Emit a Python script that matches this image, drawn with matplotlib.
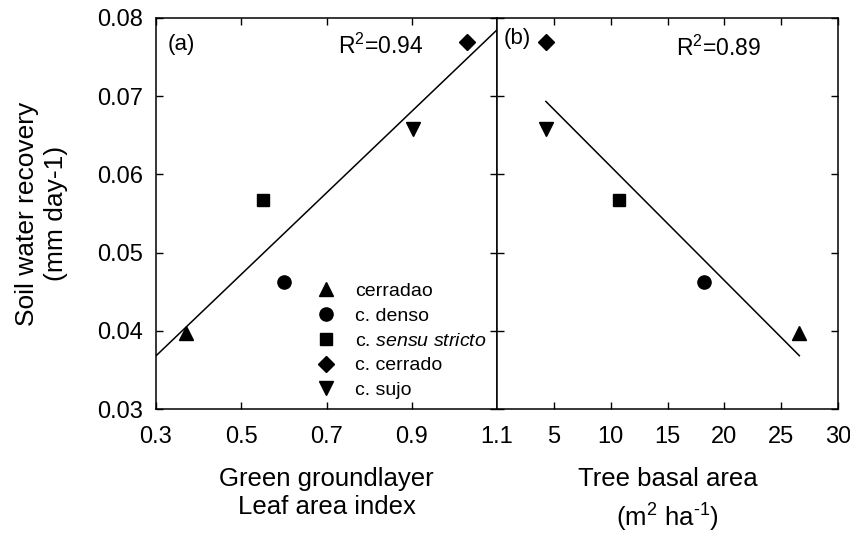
import matplotlib
matplotlib.use("Agg")
import matplotlib.pyplot as plt
import numpy as np

plt.rcParams['font.family'] = ['Liberation Sans', 'DejaVu Sans']
plt.rcParams['mathtext.fontset'] = 'custom'
plt.rcParams['mathtext.rm'] = 'Liberation Sans'
plt.rcParams['mathtext.it'] = 'Liberation Sans:italic'

# ---- data ----
categories = ["cerradao", "c. denso", "c. sensu stricto", "c. cerrado", "c. sujo"]
legend_labels = ["cerradao", "c. denso", r"c. $\mathit{sensu\ stricto}$", "c. cerrado", "c. sujo"]
markers = ["^", "o", "s", "D", "v"]
marker_sizes = [10, 9.5, 8, 8, 10]
soil_water_recovery = [0.0397, 0.0463, 0.0567, 0.0769, 0.0658]
green_lai = [0.370, 0.601, 0.552, 1.030, 0.904]
tree_basal_area = [26.6, 18.2, 10.7, 4.3, 4.3]

fit_a = (0.0521, 0.02117)     # slope, intercept (panel a)
fit_a_range = (0.3, 1.1)
fit_b = (-0.001458, 0.0756)   # slope, intercept (panel b)
fit_b_range = (4.3, 26.6)
r2_a = "0.94"
r2_b = "0.89"

xticks_a = [0.3, 0.5, 0.7, 0.9, 1.1]
xticks_b = [5, 10, 15, 20, 25, 30]
yticks = [0.03, 0.04, 0.05, 0.06, 0.07, 0.08]

# ---- figure ----
fig = plt.figure(figsize=(8.5, 5.34), dpi=100)
W, H = 850, 534
ax_a = fig.add_axes([156 / W, (H - 409) / H, 341 / W, 391 / H])
ax_b = fig.add_axes([497 / W, (H - 409) / H, 341 / W, 391 / H])

tick_fs = 17
for ax in (ax_a, ax_b):
    ax.tick_params(direction='in', length=5, width=1, top=True, right=True,
                   labelsize=tick_fs)
    ax.tick_params(axis='x', pad=12)
    ax.tick_params(axis='y', pad=9)
    for s in ax.spines.values():
        s.set_linewidth(1.1)
    ax.set_ylim(0.03, 0.08)
    ax.set_yticks(yticks)

# panel a
for x, y, m, ms in zip(green_lai, soil_water_recovery, markers, marker_sizes):
    ax_a.plot(x, y, linestyle='none', marker=m, markersize=ms, color='black')
xa = np.array(fit_a_range)
ax_a.plot(xa, fit_a[0] * xa + fit_a[1], color='black', lw=1.1)
ax_a.set_xlim(0.3, 1.1)
ax_a.set_xticks(xticks_a)
ax_a.set_xticklabels([f"{v:.1f}" for v in xticks_a])
ax_a.set_yticklabels([f"{v:.2f}" for v in yticks])
ax_a.text(0.035, 0.96, "(a)", transform=ax_a.transAxes, fontsize=16, va='top', ha='left')
ax_a.text(0.66, 0.96, "R$^2$=" + r2_a, transform=ax_a.transAxes, fontsize=16.5,
          va='top', ha='center')
ax_a.set_xlabel("Green groundlayer\nLeaf area index", fontsize=18.5, labelpad=14,
                linespacing=1.2)
ax_a.set_ylabel("Soil water recovery\n(mm day-1)", fontsize=19, labelpad=21,
                linespacing=1.3)

handles = [plt.Line2D([], [], linestyle='none', marker=m, markersize=ms, color='black')
           for m, ms in zip(markers, marker_sizes)]
ax_a.legend(handles, legend_labels, loc='lower left', bbox_to_anchor=(0.47, 0.025),
            frameon=False, fontsize=14, handlelength=1.0, handletextpad=1.0,
            labelspacing=0.37, borderpad=0, borderaxespad=0)

# panel b
for x, y, m, ms in zip(tree_basal_area, soil_water_recovery, markers, marker_sizes):
    ax_b.plot(x, y, linestyle='none', marker=m, markersize=ms, color='black')
xb = np.array(fit_b_range)
ax_b.plot(xb, fit_b[0] * xb + fit_b[1], color='black', lw=1.1)
ax_b.set_xlim(0, 30)
ax_b.set_xticks(xticks_b)
ax_b.set_xticklabels([str(v) for v in xticks_b])
ax_b.tick_params(labelleft=False)
ax_b.text(0.02, 0.975, "(b)", transform=ax_b.transAxes, fontsize=16, va='top', ha='left')
ax_b.text(0.65, 0.955, "R$^2$=" + r2_b, transform=ax_b.transAxes, fontsize=16.5,
          va='top', ha='center')
ax_b.set_xlabel("Tree basal area\n(m$^2$ ha$^{\\text{-1}}$)", fontsize=18.5, labelpad=14,
                linespacing=1.45)

fig.savefig("out.png", dpi=100)
